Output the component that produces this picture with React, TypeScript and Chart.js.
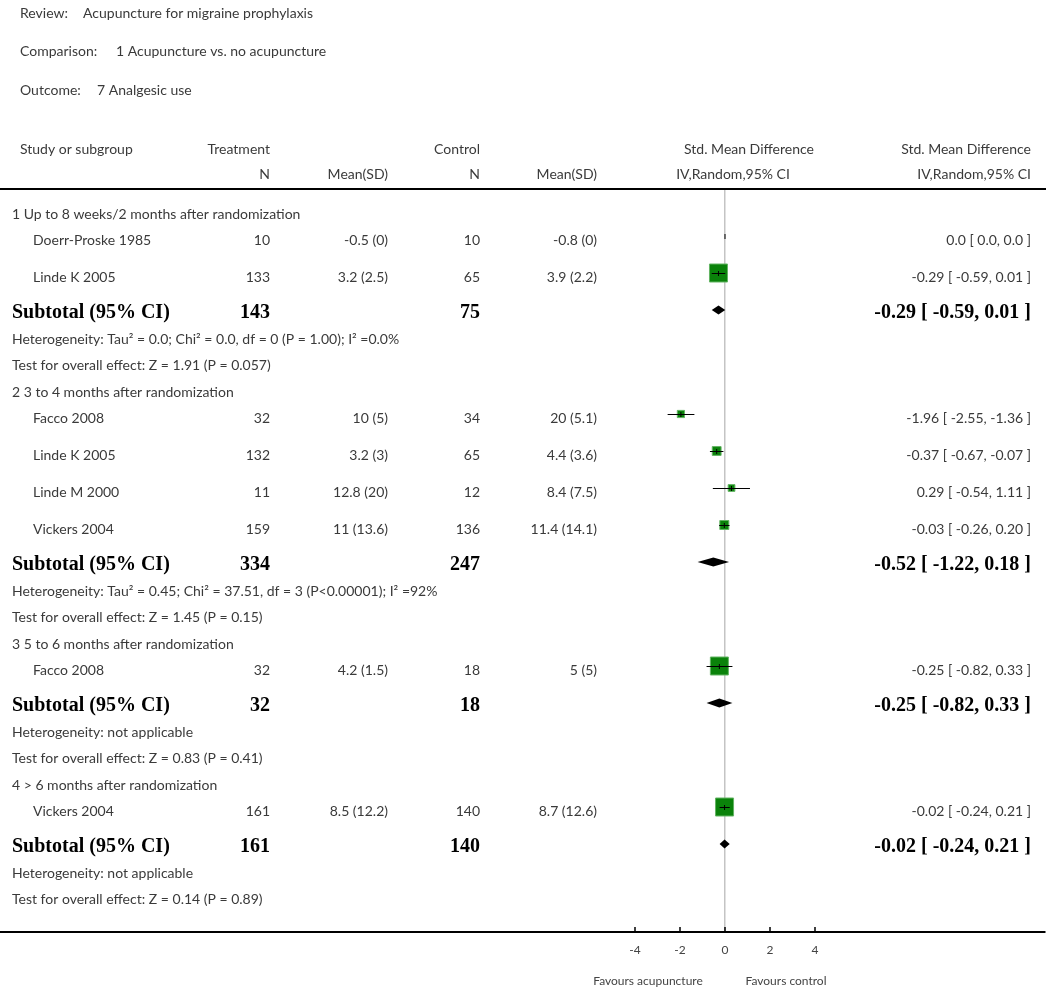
import React, { useEffect, useRef } from 'react';
import { Chart, registerables } from 'chart.js';

Chart.register(...registerables);

// ---------- data ----------
const reviewTitle = 'Acupuncture for migraine prophylaxis';
const comparisonTitle = '1 Acupuncture vs. no acupuncture';
const outcomeTitle = '7 Analgesic use';

const groupLabels = [
  '1 Up to 8 weeks/2 months after randomization',
  '2 3 to 4 months after randomization',
  '3 5 to 6 months after randomization',
  '4 > 6 months after randomization',
];

const studyNames = ['Doerr-Proske 1985', 'Linde K 2005', 'Facco 2008', 'Linde K 2005', 'Linde M 2000', 'Vickers 2004', 'Facco 2008', 'Vickers 2004'];
const studyGroup = [0, 0, 1, 1, 1, 1, 2, 3];
const treatN = [10, 133, 32, 132, 11, 159, 32, 161];
const treatMeanSD = ['-0.5 (0)', '3.2 (2.5)', '10 (5)', '3.2 (3)', '12.8 (20)', '11 (13.6)', '4.2 (1.5)', '8.5 (12.2)'];
const ctrlN = [10, 65, 34, 65, 12, 136, 18, 140];
const ctrlMeanSD = ['-0.8 (0)', '3.9 (2.2)', '20 (5.1)', '4.4 (3.6)', '8.4 (7.5)', '11.4 (14.1)', '5 (5)', '8.7 (12.6)'];
const studyEst = [0.0, -0.29, -1.96, -0.37, 0.29, -0.03, -0.25, -0.02];
const studyLo = [0.0, -0.59, -2.55, -0.67, -0.54, -0.26, -0.82, -0.24];
const studyHi = [0.0, 0.01, -1.36, -0.07, 1.11, 0.2, 0.33, 0.21];
const studyWeight = [0, 100, 16, 24, 14, 25, 100, 100];

const subTreatN = [143, 334, 32, 161];
const subCtrlN = [75, 247, 18, 140];
const subEst = [-0.29, -0.52, -0.25, -0.02];
const subLo = [-0.59, -1.22, -0.82, -0.24];
const subHi = [0.01, 0.18, 0.33, 0.21];

const heterogeneity = [
  'Heterogeneity: Tau² = 0.0; Chi² = 0.0, df = 0 (P = 1.00); I² =0.0%',
  'Heterogeneity: Tau² = 0.45; Chi² = 37.51, df = 3 (P<0.00001); I² =92%',
  'Heterogeneity: not applicable',
  'Heterogeneity: not applicable',
];
const overallTest = [
  'Test for overall effect: Z = 1.91 (P = 0.057)',
  'Test for overall effect: Z = 1.45 (P = 0.15)',
  'Test for overall effect: Z = 0.83 (P = 0.41)',
  'Test for overall effect: Z = 0.14 (P = 0.89)',
];

const xTicks = [-4, -2, 0, 2, 4];
const favoursLeft = 'Favours acupuncture';
const favoursRight = 'Favours control';

// ---------- layout ----------
const W = 1050;
const H = 992;
const PLOT_TOP = 189;
const PLOT_BOTTOM = 932;
const PLOT_RIGHT = 1045;
const ZERO_PX = 725;
const PX_PER_UNIT = 22.5;
const X_MIN = -ZERO_PX / PX_PER_UNIT;
const X_MAX = (PLOT_RIGHT - ZERO_PX) / PX_PER_UNIT;
const STUDY_MARK_SHIFT = 4; // marker sits slightly above the text line
const SUB_MARK_SHIFT = 3;

const SANS = 'Lato, "Open Sans", sans-serif';
const SERIF = '"Liberation Serif", "DejaVu Serif", serif';
const TEXT = '#3a3a3a';

type Row = { type: 'label' | 'study' | 'sub' | 'het' | 'test'; idx: number; y: number };

const GAPS: Record<string, number> = {
  'start>label': 25,
  'label>study': 26,
  'study>study': 37,
  'study>sub': 36,
  'sub>het': 26,
  'het>test': 26,
  'test>label': 27,
};

function buildRows(): Row[] {
  const rows: Row[] = [];
  let y = 0;
  let prev = 'start';
  const push = (type: Row['type'], idx: number) => {
    y += GAPS[`${prev}>${type}`] ?? 26;
    rows.push({ type, idx, y });
    prev = type;
  };
  groupLabels.forEach((_, g) => {
    push('label', g);
    studyNames.forEach((_, i) => {
      if (studyGroup[i] === g) push('study', i);
    });
    push('sub', g);
    push('het', g);
    push('test', g);
  });
  return rows;
}

const fmt = (v: number) => (v === 0 ? '0.0' : v.toFixed(2));
const ciLabel = (e: number, lo: number, hi: number) => `${fmt(e)} [ ${fmt(lo)}, ${fmt(hi)} ]`;
const boxSide = (w: number) => 18 * Math.sqrt(w / 100);

export default function App() {
  const ref = useRef<HTMLCanvasElement | null>(null);

  useEffect(() => {
    const canvas = ref.current;
    if (!canvas) return;
    const rows = buildRows();
    const studyY: number[] = [];
    const subY: number[] = [];
    rows.forEach((r) => {
      if (r.type === 'study') studyY[r.idx] = r.y - STUDY_MARK_SHIFT;
      if (r.type === 'sub') subY[r.idx] = r.y - SUB_MARK_SHIFT;
    });

    const forestPlugin = {
      id: 'forest',
      afterDatasetsDraw(chart: any) {
        const ctx = chart.ctx as CanvasRenderingContext2D;
        const xs = chart.scales.x;
        const ys = chart.scales.y;
        ctx.save();
        ctx.strokeStyle = '#000';
        ctx.fillStyle = '#000';
        ctx.lineWidth = 1;
        studyEst.forEach((e, i) => {
          const py = Math.round(ys.getPixelForValue(studyY[i])) + 0.5;
          const x1 = xs.getPixelForValue(studyLo[i]);
          const x2 = xs.getPixelForValue(studyHi[i]);
          const xe = xs.getPixelForValue(e);
          if (x2 - x1 > 0.5) {
            ctx.beginPath();
            ctx.moveTo(x1, py);
            ctx.lineTo(x2, py);
            ctx.stroke();
          }
          ctx.beginPath();
          ctx.moveTo(xe, py - 2.5);
          ctx.lineTo(xe, py + 2.5);
          ctx.stroke();
        });
        subEst.forEach((e, g) => {
          const py = ys.getPixelForValue(subY[g]);
          const x1 = xs.getPixelForValue(subLo[g]);
          const x2 = xs.getPixelForValue(subHi[g]);
          const xe = xs.getPixelForValue(e);
          ctx.beginPath();
          ctx.moveTo(x1, py);
          ctx.lineTo(xe, py - 4.5);
          ctx.lineTo(x2, py);
          ctx.lineTo(xe, py + 4.5);
          ctx.closePath();
          ctx.fill();
        });
        ctx.restore();
      },
      afterDraw(chart: any) {
        const ctx = chart.ctx as CanvasRenderingContext2D;
        const xs = chart.scales.x;
        const ys = chart.scales.y;
        const text = (s: string, x: number, y: number, align: CanvasTextAlign, font: string, color = TEXT) => {
          ctx.font = font;
          ctx.fillStyle = color;
          ctx.textAlign = align;
          ctx.textBaseline = 'middle';
          ctx.fillText(s, x, y);
        };
        const F = `14px ${SANS}`;
        const B = `bold 20px ${SERIF}`;
        ctx.save();
        // titles
        text('Review:', 20, 13, 'left', F);
        text(reviewTitle, 83, 13, 'left', F);
        text('Comparison:', 20, 51, 'left', F);
        text(comparisonTitle, 116, 51, 'left', F);
        text('Outcome:', 20, 90, 'left', F);
        text(outcomeTitle, 97, 90, 'left', F);
        // headers
        text('Study or subgroup', 20, 149, 'left', F);
        text('Treatment', 270, 149, 'right', F);
        text('N', 270, 174, 'right', F);
        text('Mean(SD)', 388, 174, 'right', F);
        text('Control', 480, 149, 'right', F);
        text('N', 480, 174, 'right', F);
        text('Mean(SD)', 597, 174, 'right', F);
        text('Std. Mean Difference', 749, 149, 'center', F);
        text('IV,Random,95% CI', 733, 174, 'center', F);
        text('Std. Mean Difference', 1031, 149, 'right', F);
        text('IV,Random,95% CI', 1031, 174, 'right', F);
        // rows
        rows.forEach((r) => {
          const py = ys.getPixelForValue(r.y);
          const i = r.idx;
          if (r.type === 'label') text(groupLabels[i], 12, py, 'left', F);
          else if (r.type === 'het') text(heterogeneity[i], 12, py, 'left', F);
          else if (r.type === 'test') text(overallTest[i], 12, py, 'left', F);
          else if (r.type === 'study') {
            text(studyNames[i], 33, py, 'left', F);
            text(String(treatN[i]), 270, py, 'right', F);
            text(treatMeanSD[i], 388, py, 'right', F);
            text(String(ctrlN[i]), 480, py, 'right', F);
            text(ctrlMeanSD[i], 597, py, 'right', F);
            text(ciLabel(studyEst[i], studyLo[i], studyHi[i]), 1031, py, 'right', F);
          } else if (r.type === 'sub') {
            text('Subtotal (95% CI)', 12, py, 'left', B, '#000');
            text(String(subTreatN[i]), 270, py, 'right', B, '#000');
            text(String(subCtrlN[i]), 480, py, 'right', B, '#000');
            text(ciLabel(subEst[i], subLo[i], subHi[i]), 1031, py, 'right', B, '#000');
          }
        });
        // tick marks (upward)
        ctx.strokeStyle = '#000';
        ctx.lineWidth = 1.5;
        const by = xs.top;
        xTicks.forEach((v) => {
          const px = xs.getPixelForValue(v);
          ctx.beginPath();
          ctx.moveTo(px, by);
          ctx.lineTo(px, by - 5);
          ctx.stroke();
        });
        // favours
        text(favoursLeft, 648, 981, 'center', `12px ${SANS}`, '#444');
        text(favoursRight, 786, 981, 'center', `12px ${SANS}`, '#444');
        ctx.restore();
      },
    };

    const chart = new Chart(canvas, {
      type: 'scatter',
      data: {
        datasets: [
          {
            data: studyEst.map((e, i) => ({ x: e, y: studyY[i] })),
            pointStyle: 'rect',
            pointRadius: studyWeight.map((w) => boxSide(w) / Math.SQRT2),
            backgroundColor: '#0a820a',
            borderColor: '#63b463',
            borderWidth: 1,
          },
        ],
      },
      options: {
        responsive: false,
        animation: false,
        events: [],
        layout: { autoPadding: false, padding: { left: 0, right: W - PLOT_RIGHT, top: 0, bottom: 0 } },
        plugins: { legend: { display: false }, tooltip: { enabled: false } },
        scales: {
          x: {
            type: 'linear',
            position: 'bottom',
            min: X_MIN,
            max: X_MAX,
            afterBuildTicks: (s: any) => {
              s.ticks = xTicks.map((v) => ({ value: v }));
            },
            afterFit: (s: any) => {
              s.height = H - PLOT_BOTTOM;
              s.paddingLeft = 0;
              s.paddingRight = 0;
            },
            grid: {
              drawTicks: false,
              color: (c: any) => (c.tick && c.tick.value === 0 ? '#c4c4c4' : 'rgba(0,0,0,0)'),
              lineWidth: 1.5,
            },
            border: { display: true, color: '#000', width: 2 },
            ticks: { padding: 11, color: '#444', font: { family: SANS, size: 12 }, autoSkip: false, maxRotation: 0 },
          },
          xTop: {
            type: 'linear',
            position: 'top',
            min: X_MIN,
            max: X_MAX,
            afterFit: (s: any) => {
              s.height = PLOT_TOP;
              s.paddingLeft = 0;
              s.paddingRight = 0;
            },
            grid: { display: false, drawTicks: false },
            border: { display: true, color: '#000', width: 2 },
            ticks: { display: false },
          },
          y: {
            type: 'linear',
            display: false,
            min: 0,
            max: PLOT_BOTTOM - PLOT_TOP,
            reverse: true,
          },
        },
      },
      plugins: [forestPlugin],
    } as any);

    return () => chart.destroy();
  }, []);

  return (
    <div style={{ position: 'absolute', left: 0, top: 0, width: W, height: H, background: '#fff' }}>
      <canvas ref={ref} width={W} height={H} style={{ display: 'block', width: W, height: H }} />
    </div>
  );
}
